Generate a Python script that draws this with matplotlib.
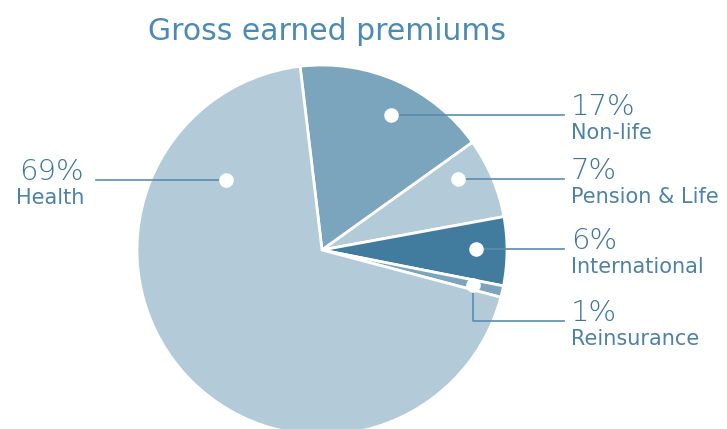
"""Gross earned premiums pie with callout labels."""
import matplotlib
matplotlib.use("Agg")
import matplotlib.pyplot as plt
import numpy as np

TITLE_C, TEXT_C, PCT_C, LINE_C = "#4a8ab5", "#4c82a8", "#3d75a0", "#5a8db0"

labels = ["Non-life", "Pension & Life", "International", "Reinsurance", "Health"]
shares = [17, 7, 6, 1, 69]
colors = ["#7ba4bd", "#b3cad8", "#417c9e", "#7ba4bd", "#b3cad8"]

# callout dot placement: fraction through the wedge, fraction of radius
dot_frac = [0.55, 0.32, 0.46, 0.5, 0.81]
dot_rad = [0.82, 0.83, 0.83, 0.84, 0.64]

W, H = 727, 429
CX, CY, R = 322, H - 250, 185
START = 96.8

fig = plt.figure(figsize=(W / 100, H / 100), dpi=100)
ax = fig.add_axes([0, 0, 1, 1])

ax.pie(shares, colors=colors, startangle=START, counterclock=False,
       center=(CX, CY), radius=R, frame=True,
       wedgeprops=dict(edgecolor="white", linewidth=2))
ax.set_xlim(0, W)
ax.set_ylim(0, H)
ax.set_aspect("equal")
ax.axis("off")

cum = np.concatenate([[0], np.cumsum(shares)[:-1]])
RIGHT_X, LINE_END = 571, 564
for i, lab in enumerate(labels):
    ang = np.deg2rad(START - (cum[i] + dot_frac[i] * shares[i]) * 3.6)
    dx = CX + dot_rad[i] * R * np.cos(ang)
    dy = CY + dot_rad[i] * R * np.sin(ang)
    if lab == "Health":
        ax.plot([dx, 96], [dy, dy], color=LINE_C, lw=1.2, zorder=3)
        ty, tx, ha = dy, 84, "right"
    elif lab == "Reinsurance":
        ty = dy - 36
        ax.plot([dx, dx, LINE_END], [dy, ty, ty], color=LINE_C, lw=1.2, zorder=3)
        tx, ha = RIGHT_X, "left"
    else:
        ax.plot([dx, LINE_END], [dy, dy], color=LINE_C, lw=1.2, zorder=3)
        ty, tx, ha = dy, RIGHT_X, "left"
    ax.scatter([dx], [dy], s=110, color="white", zorder=4, linewidths=0)
    ax.text(tx, ty, f"{shares[i]}%", ha=ha, va="baseline", fontsize=21,
            color=PCT_C, fontweight="light", family="DejaVu Sans")
    ax.text(tx, ty - 24, lab, ha=ha, va="baseline", fontsize=15,
            color=TEXT_C, family="DejaVu Sans")

ax.text(327, H - 32, "Gross earned premiums", ha="center", va="center",
        fontsize=21.5, color=TITLE_C, family="DejaVu Sans")

fig.savefig("out.png", dpi=100, facecolor="white")
